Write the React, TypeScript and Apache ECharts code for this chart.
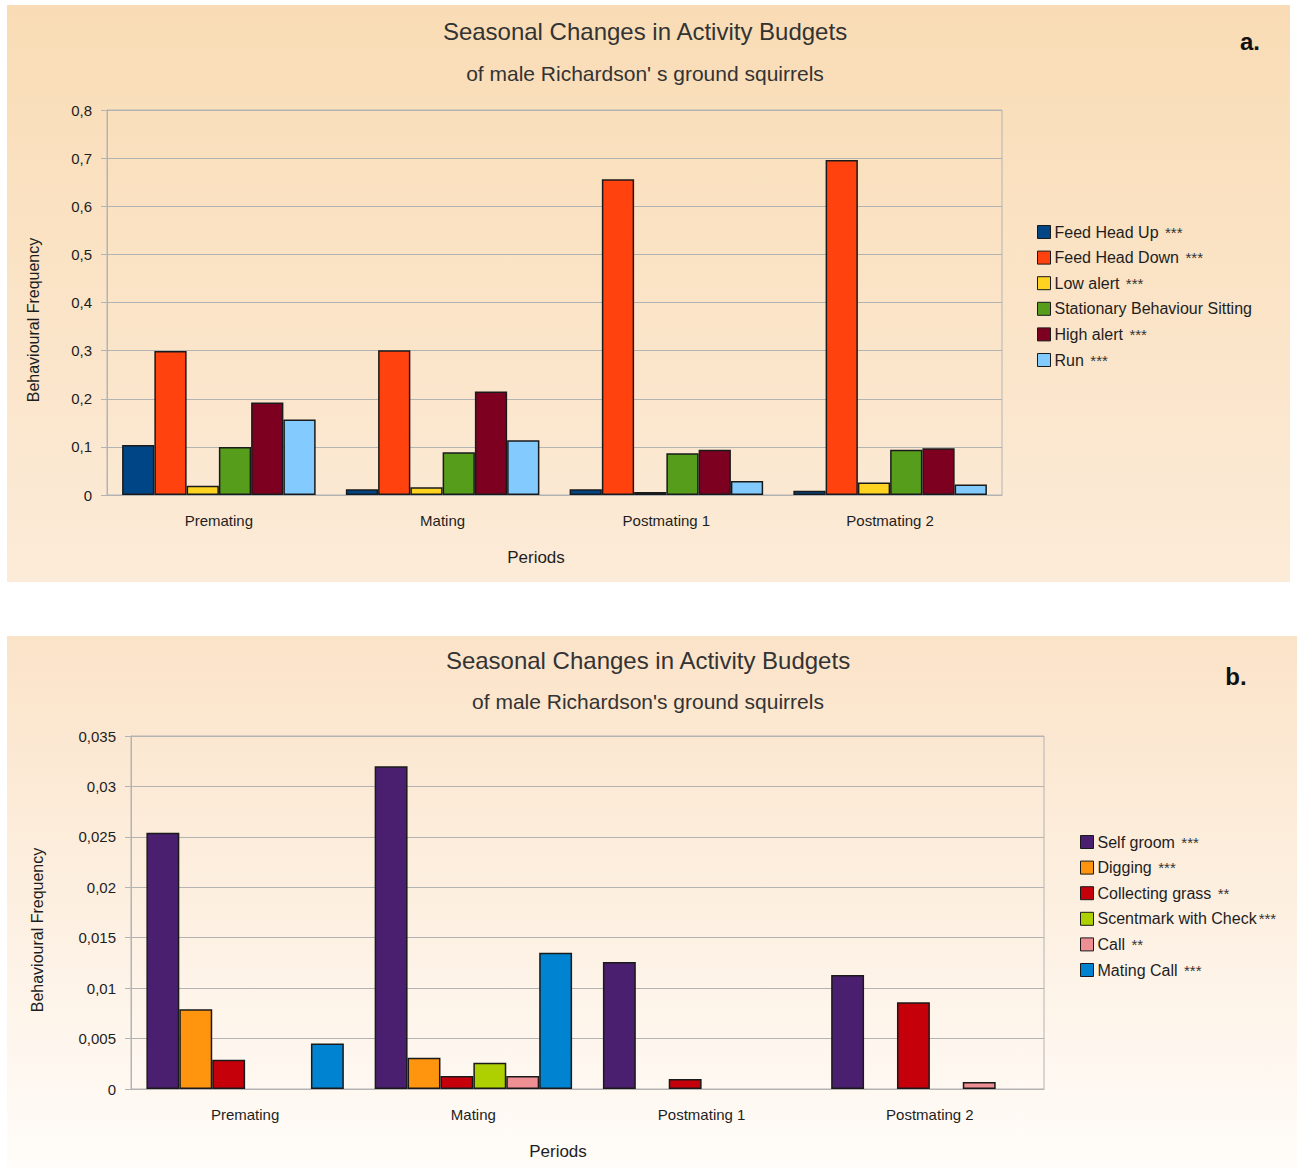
import React, { useEffect, useRef } from "react";
import * as echarts from "echarts";

// Periods shared by both panels
const periods = ["Premating", "Mating", "Postmating 1", "Postmating 2"];

// Panel a: main activity budgets
const seriesNamesA = [
  "Feed Head Up ***",
  "Feed Head Down ***",
  "Low alert ***",
  "Stationary Behaviour Sitting",
  "High alert ***",
  "Run ***",
];
const colorsA = ["#004586", "#ff420e", "#ffd320", "#579d1c", "#7e0021", "#83caff"];
const feedHeadUp = [0.104, 0.012, 0.012, 0.009];
const feedHeadDown = [0.299, 0.301, 0.656, 0.696];
const lowAlert = [0.019, 0.016, 0.006, 0.026];
const stationarySitting = [0.1, 0.089, 0.087, 0.094];
const highAlert = [0.192, 0.215, 0.094, 0.097];
const run = [0.157, 0.114, 0.029, 0.022];
const valuesA = [feedHeadUp, feedHeadDown, lowAlert, stationarySitting, highAlert, run];

// Panel b: rarer behaviours
const seriesNamesB = [
  "Self groom ***",
  "Digging ***",
  "Collecting grass **",
  "Scentmark with Check***",
  "Call **",
  "Mating Call ***",
];
const colorsB = ["#4b1f6f", "#ff950e", "#c5000b", "#aecf00", "#ee8f94", "#0084d1"];
const selfGroom = [0.0254, 0.032, 0.0126, 0.0113];
const digging = [0.0079, 0.0031, 0, 0];
const collectingGrass = [0.0029, 0.0013, 0.001, 0.0086];
const scentmark = [0, 0.0026, 0, 0];
const call = [0, 0.0013, 0, 0.0007];
const matingCall = [0.0045, 0.0135, 0, 0];
const valuesB = [selfGroom, digging, collectingGrass, scentmark, call, matingCall];

const FONT = "Liberation Sans";
const TEXT = "#1e1e1e";

const commaFmt = (digits: number) => (v: number) =>
  v === 0 ? "0" : String(+v.toFixed(digits)).replace(".", ",");

const starRich = (name: string) => name.replace(/(\*+)/, "{s|$1}");

export default function App() {
  const ref = useRef<HTMLDivElement>(null);

  useEffect(() => {
    document.body.style.margin = "0";
    const chart = echarts.init(ref.current!, null, { renderer: "svg" });

    const barSeries = (
      names: string[],
      colors: string[],
      values: number[][],
      idx: number
    ) =>
      names.map((name, i) => ({
        name,
        type: "bar",
        xAxisIndex: idx,
        yAxisIndex: idx,
        barGap: "0%",
        barCategoryGap: "13.5%",
        data: values[i].map((v) => (v === 0 ? null : v)),
        itemStyle: { color: colors[i], borderColor: "#1a1a1a", borderWidth: 1.5 },
      }));

    const xAxisBase = (gridIndex: number) => ({
      type: "category",
      gridIndex,
      data: periods,
      axisLine: { lineStyle: { color: "#b3b3b3", width: 1 } },
      axisTick: { alignWithLabel: true, length: 6, lineStyle: { color: "#b3b3b3" } },
      axisLabel: { color: TEXT, fontFamily: FONT, fontSize: 15, margin: 18 },
    });

    const yAxisBase = (gridIndex: number, max: number, interval: number, digits: number) => ({
      type: "value",
      gridIndex,
      min: 0,
      max,
      interval,
      axisLine: { show: true, lineStyle: { color: "#b3b3b3", width: 1 } },
      axisTick: { show: true, length: 6, lineStyle: { color: "#b3b3b3" } },
      axisLabel: {
        color: TEXT,
        fontFamily: FONT,
        fontSize: 15,
        margin: 15,
        formatter: commaFmt(digits),
      },
      splitLine: { lineStyle: { color: "#b3b3b3", width: 1 } },
    });

    const legendBase = (names: string[], left: number, top: number) => ({
      data: names,
      orient: "vertical",
      left,
      top,
      icon: "rect",
      itemWidth: 13,
      itemHeight: 13,
      itemGap: 9.6,
      itemStyle: { borderColor: "#1a1a1a", borderWidth: 1 },
      formatter: starRich,
      textStyle: {
        color: TEXT,
        fontFamily: FONT,
        fontSize: 16,
        lineHeight: 16,
        padding: [0, 0, 0, -1],
        rich: {
          s: { fontSize: 15, lineHeight: 16, color: "#333", fontFamily: FONT, padding: [0, 0, 0, 2] },
        },
      },
    });

    const txt = (
      text: string,
      x: number,
      y: number,
      size: number,
      extra: Record<string, unknown> = {}
    ) => ({
      type: "text",
      x,
      y,
      silent: true,
      style: {
        text,
        fill: TEXT,
        font: `${size}px '${FONT}'`,
        align: "center",
        verticalAlign: "middle",
        ...((extra.style as object) || {}),
      },
      ...Object.fromEntries(Object.entries(extra).filter(([k]) => k !== "style")),
    });

    chart.setOption({
      animation: false,
      backgroundColor: "#ffffff",
      graphic: [
        {
          type: "rect",
          z: -10,
          silent: true,
          shape: { x: 7, y: 5, width: 1283, height: 577 },
          style: {
            fill: new echarts.graphic.LinearGradient(0, 0, 0, 1, [
              { offset: 0, color: "#f9dcb5" },
              { offset: 1, color: "#fcebd8" },
            ]),
          },
        },
        {
          type: "rect",
          z: -10,
          silent: true,
          shape: { x: 7, y: 636, width: 1290, height: 532 },
          style: {
            fill: new echarts.graphic.LinearGradient(0, 0, 0, 1, [
              { offset: 0, color: "#fbe3c8" },
              { offset: 1, color: "#fffcf9" },
            ]),
          },
        },
        // Panel a texts
        txt("Seasonal Changes in Activity Budgets", 645, 31, 24, { style: { fill: "#333333" } }),
        txt("of male Richardson' s ground squirrels", 645, 73, 21, { style: { fill: "#333333" } }),
        txt("a.", 1250, 41, 24, { style: { font: `bold 24px '${FONT}'`, fill: "#111" } }),
        txt("Periods", 536, 557, 17),
        txt("Behavioural Frequency", 33, 320, 16, { rotation: Math.PI / 2 }),
        // Panel b texts
        txt("Seasonal Changes in Activity Budgets", 648, 660, 24, { style: { fill: "#333333" } }),
        txt("of male Richardson's ground squirrels", 648, 701, 21, { style: { fill: "#333333" } }),
        txt("b.", 1236, 676, 24, { style: { font: `bold 24px '${FONT}'`, fill: "#111" } }),
        txt("Periods", 558, 1151, 17),
        txt("Behavioural Frequency", 37, 930, 16, { rotation: Math.PI / 2 }),
      ],
      grid: [
        {
          left: 107,
          right: 1297 - 1002,
          top: 110,
          bottom: 1168 - 495,
          show: true,
          borderColor: "#b3b3b3",
          borderWidth: 1,
          backgroundColor: "transparent",
        },
        {
          left: 131,
          right: 1297 - 1044,
          top: 736,
          bottom: 1168 - 1089,
          show: true,
          borderColor: "#b3b3b3",
          borderWidth: 1,
          backgroundColor: "transparent",
        },
      ],
      xAxis: [xAxisBase(0), xAxisBase(1)],
      yAxis: [yAxisBase(0, 0.8, 0.1, 1), yAxisBase(1, 0.035, 0.005, 3)],
      legend: [legendBase(seriesNamesA, 1032, 219), legendBase(seriesNamesB, 1075, 829)],
      series: [
        ...barSeries(seriesNamesA, colorsA, valuesA, 0),
        ...barSeries(seriesNamesB, colorsB, valuesB, 1),
      ],
    });

    return () => chart.dispose();
  }, []);

  return <div ref={ref} style={{ width: 1297, height: 1168 }} />;
}
